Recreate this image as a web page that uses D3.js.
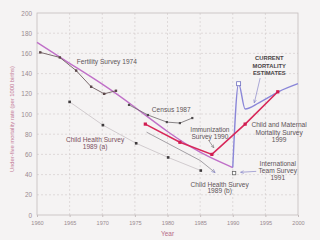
<!DOCTYPE html>
<html>
<head>
<meta charset="utf-8">
<script src="https://cdn.jsdelivr.net/npm/d3@7"></script>
<style>
  body { margin: 0; background: #f5f3f3; }
  svg { display: block; font-family: "Liberation Sans", Arial, sans-serif; }
</style>
</head>
<body>
<script>
// values: [year, under-five deaths per 1000 births]
const fertility1974 = [[1960.5, 161], [1963.5, 156], [1966, 143], [1968.3, 127], [1970.3, 120], [1972.1, 123]];
const census1987 = [[1974.1, 109], [1977, 99], [1979.9, 92], [1981.9, 91], [1983.8, 96]];
const childHealthA = [[1965, 112], [1970.1, 89], [1975.2, 71], [1980.1, 57], [1985.1, 44]];
const childHealthB = [[1976.8, 82], [1985, 54], [1987.3, 42]];
const cmms1999 = [[1976.6, 90], [1981.9, 72], [1986.8, 60], [1991.9, 90], [1996.9, 122]];
const trend = [[1960, 171], [1965, 150], [1970, 130], [1975, 107], [1980, 82], [1985, 61], [1990, 47]];
const current = [[1990, 47], [1990.9, 130], [1991.9, 105], [1994, 111], [1997, 122], [2000, 130]];
const intlTeam1991 = [[1990.2, 41.5]];

const xTicks = [1960, 1965, 1970, 1975, 1980, 1985, 1990, 1995, 2000];
const yTicks = [0, 20, 40, 60, 80, 100, 120, 140, 160, 180, 200];

const W = 320, H = 240;
const svg = d3.select("body").append("svg")
              .attr("width", W)
              .attr("height", H);

const x = d3.scaleLinear().domain([1960, 2000]).range([37, 298]);
const y = d3.scaleLinear().domain([0, 200]).range([215, 13]);

const line = d3.line().x(d => x(d[0])).y(d => y(d[1]));

// grid
svg.append("g").selectAll("line")
   .data(xTicks.slice(1, -1))
   .join("line")
   .attr("x1", d => x(d)).attr("x2", d => x(d))
   .attr("y1", y(0)).attr("y2", y(200))
   .attr("stroke", "#d6cfcf").attr("stroke-width", 0.7)
   .attr("stroke-dasharray", "2,2");

svg.append("g").selectAll("line")
   .data(yTicks.slice(1, -1))
   .join("line")
   .attr("x1", x(1960)).attr("x2", x(2000))
   .attr("y1", d => y(d)).attr("y2", d => y(d))
   .attr("stroke", "#d6cfcf").attr("stroke-width", 0.7)
   .attr("stroke-dasharray", "2,2");

svg.append("rect")
   .attr("x", x(1960)).attr("y", y(200))
   .attr("width", x(2000) - x(1960)).attr("height", y(0) - y(200))
   .attr("fill", "none").attr("stroke", "#c4bcbc").attr("stroke-width", 0.8);

// axes
const xAxis = svg.append("g")
   .attr("transform", `translate(0,${y(0)})`)
   .call(d3.axisBottom(x).tickValues(xTicks).tickFormat(d3.format("d")).tickSize(2).tickPadding(4));
const yAxis = svg.append("g")
   .attr("transform", `translate(${x(1960)},0)`)
   .call(d3.axisLeft(y).tickValues(yTicks).tickSize(0).tickPadding(5));

[xAxis, yAxis].forEach(g => {
    g.select(".domain").remove();
    g.selectAll("line").attr("stroke", "#c4bcbc");
    g.selectAll("text").attr("fill", "#9a8a90").style("font-family", "Liberation Sans, Arial, sans-serif");
});
xAxis.selectAll("text").style("font-size", "5.6px");
yAxis.selectAll("text").style("font-size", "6.4px");

svg.append("text")
   .attr("x", (x(1960) + x(2000)) / 2).attr("y", 236)
   .attr("text-anchor", "middle")
   .attr("fill", "#b56a86").style("font-size", "6.5px")
   .text("Year");

svg.append("text")
   .attr("transform", `translate(14,${y(95)}) rotate(-90)`)
   .attr("text-anchor", "middle")
   .attr("fill", "#c27895").style("font-size", "5.8px")
   .text("Under-five mortality rate (per 1000 births)");

// arrow markers
const defs = svg.append("defs");
function arrow(id, color) {
    defs.append("marker")
        .attr("id", id).attr("viewBox", "0 0 10 10")
        .attr("refX", 9).attr("refY", 5)
        .attr("markerWidth", 5).attr("markerHeight", 5)
        .attr("orient", "auto")
        .append("path").attr("d", "M0,1L9,5L0,9")
        .attr("fill", "none").attr("stroke", color).attr("stroke-width", 1.5);
}
arrow("arrBlue", "#7f7fc8");
arrow("arrGray", "#777");

// lines
svg.append("path").datum(childHealthA)
   .attr("d", line).attr("fill", "none")
   .attr("stroke", "#c2babe").attr("stroke-width", 0.7);

svg.append("path").datum(trend)
   .attr("d", d3.line().x(d => x(d[0])).y(d => y(d[1])).curve(d3.curveBasis))
   .attr("fill", "none").attr("stroke", "#c070c8").attr("stroke-width", 1.4);

svg.append("path").datum(current)
   .attr("d", d3.line().x(d => x(d[0])).y(d => y(d[1])).curve(d3.curveMonotoneX))
   .attr("fill", "none").attr("stroke", "#8a86d8").attr("stroke-width", 1.4);

svg.append("path").datum(fertility1974)
   .attr("d", line).attr("fill", "none")
   .attr("stroke", "#6e5c60").attr("stroke-width", 0.9);

svg.append("path").datum(census1987)
   .attr("d", line).attr("fill", "none")
   .attr("stroke", "#6f6a6c").attr("stroke-width", 0.8);

svg.append("path").datum(childHealthB)
   .attr("d", line).attr("fill", "none")
   .attr("stroke", "#8e8a90").attr("stroke-width", 0.8)
   .attr("marker-end", "url(#arrBlue)");

svg.append("path").datum(cmms1999)
   .attr("d", line).attr("fill", "none")
   .attr("stroke", "#d8285a").attr("stroke-width", 1.6);

// point markers
function squares(data, size, fill, stroke) {
    svg.append("g").selectAll("rect")
       .data(data)
       .join("rect")
       .attr("x", d => x(d[0]) - size / 2)
       .attr("y", d => y(d[1]) - size / 2)
       .attr("width", size).attr("height", size)
       .attr("fill", fill)
       .attr("stroke", stroke || "none").attr("stroke-width", 0.8);
}
squares(fertility1974, 2.4, "#5a4648");
squares(census1987, 2.2, "#4e4a4c");
squares(childHealthA, 2.6, "#3e3a3c");
squares(cmms1999, 3.2, "#d01c50");
squares([current[1]], 4, "#fff", "#6f6fc0");
squares(intlTeam1991, 3.4, "#fff", "#666");

// leader arrows
const leaders = [
    [[1994.2, 135.6], [1993.3, 111], "arrBlue", "#8a86c8"],
    [[1993.6, 43.2], [1991.2, 42.3], "arrBlue", "#8a86c8"],
    [[1986.3, 74], [1987.1, 66.5], "arrGray", "#777"]
];
leaders.forEach(l => {
    svg.append("line")
       .attr("x1", x(l[0][0])).attr("y1", y(l[0][1]))
       .attr("x2", x(l[1][0])).attr("y2", y(l[1][1]))
       .attr("stroke", l[3]).attr("stroke-width", 0.7)
       .attr("marker-end", `url(#${l[2]})`);
});

// annotations
function label(lines, cx, rates, opts) {
    opts = opts || {};
    const t = svg.append("g");
    lines.forEach((s, i) => {
        t.append("text")
         .attr("x", x(cx)).attr("y", y(rates[i]))
         .attr("text-anchor", opts.anchor || "middle")
         .attr("fill", opts.color || "#5e5458")
         .style("font-size", (opts.size || 6.6) + "px")
         .style("font-weight", opts.bold ? "bold" : "normal")
         .text(s);
    });
}
label(["Fertility Survey 1974"], 1966.1, [150], { anchor: "start" });
label(["Census 1987"], 1977.6, [102], { anchor: "start" });
label(["CURRENT", "MORTALITY", "ESTIMATES"], 1995.6, [153.6, 146, 138.6], { bold: true, size: 5.8, color: "#4a4446" });
label(["Child Health Survey", "1989 (a)"], 1968.9, [71.8, 64.9], { color: "#7a5060" });
label(["Immunization", "Survey 1990"], 1986.5, [81.7, 74.8]);
label(["Child and Maternal", "Mortality Survey", "1999"], 1997.1, [87.6, 79.7, 71.8]);
label(["International", "Team Survey", "1991"], 1996.9, [48.5, 41.1, 34.2]);
label(["Child Health Survey", "1989 (b)"], 1988, [28.2, 21.3]);
</script>
</body>
</html>
